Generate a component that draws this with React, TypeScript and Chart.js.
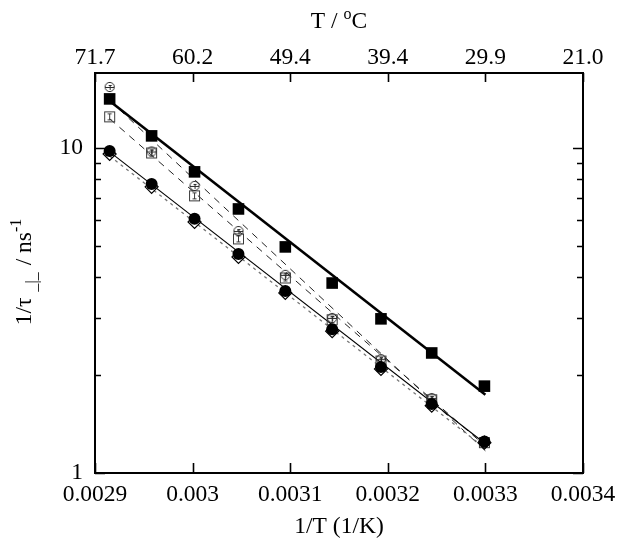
import React, { useEffect, useRef } from 'react';
import { Chart, registerables } from 'chart.js';

Chart.register(...registerables);

const FONT = "'Liberation Serif', 'Times New Roman', serif";

// 1/T values (1/K) for 70, 65, ..., 30 °C
const invT = [0.002915, 0.002958, 0.003002, 0.003047, 0.003095, 0.003143, 0.003193, 0.003245, 0.003299];

// 1/tau (ns^-1)
const filledSquares = [14.15, 10.89, 8.44, 6.49, 4.96, 3.84, 2.98, 2.34, 1.85];
const filledCircles = [9.79, 7.75, 6.05, 4.72, 3.63, 2.77, 2.12, 1.63, 1.25];
const openDiamonds = [9.58, 7.59, 5.92, 4.62, 3.58, 2.73, 2.09, 1.61, 1.24];
const openCircles = [15.4, 9.75, 7.64, 5.55, 4.07, 3.0, 2.24, 1.7, 1.24];
const openSquares = [12.46, 9.65, 7.12, 5.25, 3.98, 2.96, 2.21, 1.68, 1.24];

// fitted lines (end points)
const fitX = [0.002915, 0.0033];
const fitFilledSquares = [13.95, 1.74];
const fitFilledCircles = [9.72, 1.23];
const fitOpenDiamonds = [9.44, 1.19];
const fitOpenCircles = [14.0, 1.17];
const fitOpenSquares = [12.3, 1.21];

// axes
const xMin = 0.0029;
const xMax = 0.0034;
const yMin = 1;
const yMax = 17;
const xTickValues = [0.0029, 0.003, 0.0031, 0.0032, 0.0033, 0.0034];
const xTickLabels = ['0.0029', '0.003', '0.0031', '0.0032', '0.0033', '0.0034'];
const topTickLabels = ['71.7', '60.2', '49.4', '39.4', '29.9', '21.0'];
const yTickValues = [1, 10];
const yTickLabels = ['1', '10'];
const yMinorTicks = [2, 3, 4, 5, 6, 7, 8, 9];

const pts = (xs: number[], ys: number[]) => xs.map((x, i) => ({ x, y: ys[i] }));

function makeOpenSquare(): HTMLCanvasElement {
  const c = document.createElement('canvas');
  c.width = 13;
  c.height = 13;
  const g = c.getContext('2d')!;
  g.strokeStyle = '#3a3a3a';
  g.lineWidth = 1;
  g.strokeRect(1.5, 1.5, 10, 10);
  g.beginPath();
  g.moveTo(6.5, 3.5);
  g.lineTo(6.5, 9.5);
  g.moveTo(4.5, 3.5);
  g.lineTo(8.5, 3.5);
  g.moveTo(4.5, 9.5);
  g.lineTo(8.5, 9.5);
  g.stroke();
  return c;
}

function makeOpenCircle(): HTMLCanvasElement {
  const c = document.createElement('canvas');
  c.width = 12;
  c.height = 12;
  const g = c.getContext('2d')!;
  g.strokeStyle = '#2a2a2a';
  g.lineWidth = 1;
  g.beginPath();
  g.arc(6, 6, 4.6, 0, Math.PI * 2);
  g.stroke();
  g.beginPath();
  g.moveTo(2, 6.5);
  g.lineTo(10, 6.5);
  g.moveTo(6.5, 4);
  g.lineTo(6.5, 9);
  g.moveTo(5, 4.5);
  g.lineTo(8, 4.5);
  g.stroke();
  return c;
}

type Piece = { t: string; size: number; dy: number; gapBefore?: number };

function drawRich(ctx: CanvasRenderingContext2D, pieces: Piece[], cx: number, baseline: number) {
  let total = 0;
  const widths = pieces.map((p) => {
    ctx.font = `${p.size}px ${FONT}`;
    const w = ctx.measureText(p.t).width;
    total += w + (p.gapBefore || 0);
    return w;
  });
  let x = cx - total / 2;
  pieces.forEach((p, i) => {
    x += p.gapBefore || 0;
    ctx.font = `${p.size}px ${FONT}`;
    ctx.fillText(p.t, x, baseline + p.dy);
    x += widths[i];
  });
}

const decorPlugin = {
  id: 'decor',
  afterDraw(chart: any) {
    const { ctx, chartArea } = chart;
    const { left, right, top, bottom } = chartArea;
    const xs = chart.scales.x;
    const ys = chart.scales.y;
    ctx.save();
    ctx.strokeStyle = '#000';
    ctx.fillStyle = '#000';
    ctx.lineWidth = 1.6;
    ctx.beginPath();
    // x ticks bottom & top
    xTickValues.forEach((v) => {
      const px = Math.round(xs.getPixelForValue(v)) + 0.5;
      ctx.moveTo(px, bottom);
      ctx.lineTo(px, bottom - 10);
      ctx.moveTo(px, top);
      ctx.lineTo(px, top + 9);
    });
    yTickValues.forEach((v) => {
      const py = Math.round(ys.getPixelForValue(v)) + 0.5;
      ctx.moveTo(left, py);
      ctx.lineTo(left + 10, py);
      ctx.moveTo(right, py);
      ctx.lineTo(right - 10, py);
    });
    yMinorTicks.forEach((v) => {
      const py = Math.round(ys.getPixelForValue(v)) + 0.5;
      ctx.moveTo(left, py);
      ctx.lineTo(left + 6, py);
      ctx.moveTo(right, py);
      ctx.lineTo(right - 6, py);
    });
    ctx.stroke();
    ctx.lineWidth = 2;
    ctx.strokeRect(left, top, right - left, bottom - top);

    // titles
    ctx.textBaseline = 'alphabetic';
    ctx.textAlign = 'left';
    drawRich(ctx, [{ t: '1/T (1/K)', size: 23.5, dy: 0 }], (left + right) / 2, 533);
    drawRich(
      ctx,
      [
        { t: 'T / ', size: 23.5, dy: 0 },
        { t: 'o', size: 16, dy: -9 },
        { t: 'C', size: 23.5, dy: 0 },
      ],
      (left + right) / 2,
      28
    );
    ctx.translate(31, 272);
    ctx.rotate(-Math.PI / 2);
    drawRich(
      ctx,
      [
        { t: '1/τ', size: 23.5, dy: 0 },
        { t: '_|_', size: 16, dy: 6, gapBefore: 6 },
        { t: '/ ns', size: 23.5, dy: 0, gapBefore: 7 },
        { t: '-1', size: 16, dy: -10 },
      ],
      0,
      0
    );
    ctx.restore();
  },
};

export default function App() {
  const ref = useRef<HTMLCanvasElement | null>(null);
  useEffect(() => {
    document.body.style.margin = '0';
    const canvas = ref.current!;
    const openSq = makeOpenSquare();
    const openCi = makeOpenCircle();
    const tickFont = { family: FONT, size: 23.5 };
    const chart = new Chart(canvas, {
      type: 'scatter',
      data: {
        datasets: [
          {
            label: 'filled squares',
            data: pts(invT, filledSquares),
            pointStyle: 'rect',
            pointRadius: 8.2,
            backgroundColor: '#000',
            borderColor: '#000',
            borderWidth: 0,
            showLine: false,
          },
          {
            label: 'filled circles',
            data: pts(invT, filledCircles),
            pointStyle: 'circle',
            pointRadius: 6,
            backgroundColor: '#000',
            borderColor: '#000',
            borderWidth: 0,
            showLine: false,
          },
          {
            label: 'open diamonds',
            data: pts(invT, openDiamonds),
            pointStyle: 'rectRot',
            pointRadius: 6.5,
            backgroundColor: 'rgba(0,0,0,0)',
            borderColor: '#000',
            borderWidth: 1.2,
            showLine: false,
          },
          {
            label: 'open circles',
            data: pts(invT, openCircles),
            pointStyle: openCi,
            showLine: false,
          },
          {
            label: 'open squares',
            data: pts(invT, openSquares),
            pointStyle: openSq,
            showLine: false,
          },
          {
            type: 'line',
            label: 'fit filled squares',
            data: pts(fitX, fitFilledSquares),
            borderColor: '#000',
            borderWidth: 2.6,
            pointRadius: 0,
            showLine: true,
          },
          {
            type: 'line',
            label: 'fit filled circles',
            data: pts(fitX, fitFilledCircles),
            borderColor: '#000',
            borderWidth: 1.1,
            pointRadius: 0,
            showLine: true,
          },
          {
            type: 'line',
            label: 'fit open diamonds',
            data: pts(fitX, fitOpenDiamonds),
            borderColor: '#777',
            borderWidth: 1.3,
            borderDash: [3, 4],
            pointRadius: 0,
            showLine: true,
          },
          {
            type: 'line',
            label: 'fit open circles',
            data: pts(fitX, fitOpenCircles),
            borderColor: '#222',
            borderWidth: 1,
            borderDash: [7, 6],
            pointRadius: 0,
            showLine: true,
          },
          {
            type: 'line',
            label: 'fit open squares',
            data: pts(fitX, fitOpenSquares),
            borderColor: '#222',
            borderWidth: 1,
            borderDash: [7, 6],
            pointRadius: 0,
            showLine: true,
          },
        ] as any,
      },
      options: {
        animation: false,
        responsive: false,
        devicePixelRatio: 1,
        layout: { padding: { left: 0, right: 41, top: 0, bottom: 0 } },
        plugins: { legend: { display: false }, tooltip: { enabled: false } },
        scales: {
          x: {
            type: 'linear',
            position: 'bottom',
            min: xMin,
            max: xMax,
            grid: { display: false, drawTicks: false },
            border: { display: false },
            afterBuildTicks: (s: any) => {
              s.ticks = xTickValues.map((v) => ({ value: v }));
            },
            afterFit: (s: any) => {
              s.height = 78;
            },
            ticks: {
              autoSkip: false,
              maxRotation: 0,
              padding: 8,
              color: '#000',
              font: tickFont,
              callback: (_v: any, i: number) => xTickLabels[i],
            },
          },
          x2: {
            type: 'linear',
            axis: 'x',
            position: 'top',
            min: xMin,
            max: xMax,
            grid: { display: false, drawTicks: false },
            border: { display: false },
            afterBuildTicks: (s: any) => {
              s.ticks = xTickValues.map((v) => ({ value: v }));
            },
            afterFit: (s: any) => {
              s.height = 73;
            },
            ticks: {
              autoSkip: false,
              maxRotation: 0,
              padding: 1,
              color: '#000',
              font: tickFont,
              callback: (_v: any, i: number) => topTickLabels[i],
            },
          },
          y: {
            type: 'logarithmic',
            position: 'left',
            min: yMin,
            max: yMax,
            grid: { display: false, drawTicks: false },
            border: { display: false },
            afterBuildTicks: (s: any) => {
              s.ticks = yTickValues.map((v) => ({ value: v }));
            },
            afterFit: (s: any) => {
              s.width = 95;
            },
            ticks: {
              autoSkip: false,
              padding: 12,
              color: '#000',
              font: tickFont,
              callback: (_v: any, i: number) => yTickLabels[i],
            },
          },
        },
      } as any,
      plugins: [decorPlugin],
    });
    return () => chart.destroy();
  }, []);
  return (
    <div style={{ position: 'absolute', left: 0, top: 0, width: 624, height: 551, background: '#fff' }}>
      <canvas ref={ref} width={624} height={551} />
    </div>
  );
}
